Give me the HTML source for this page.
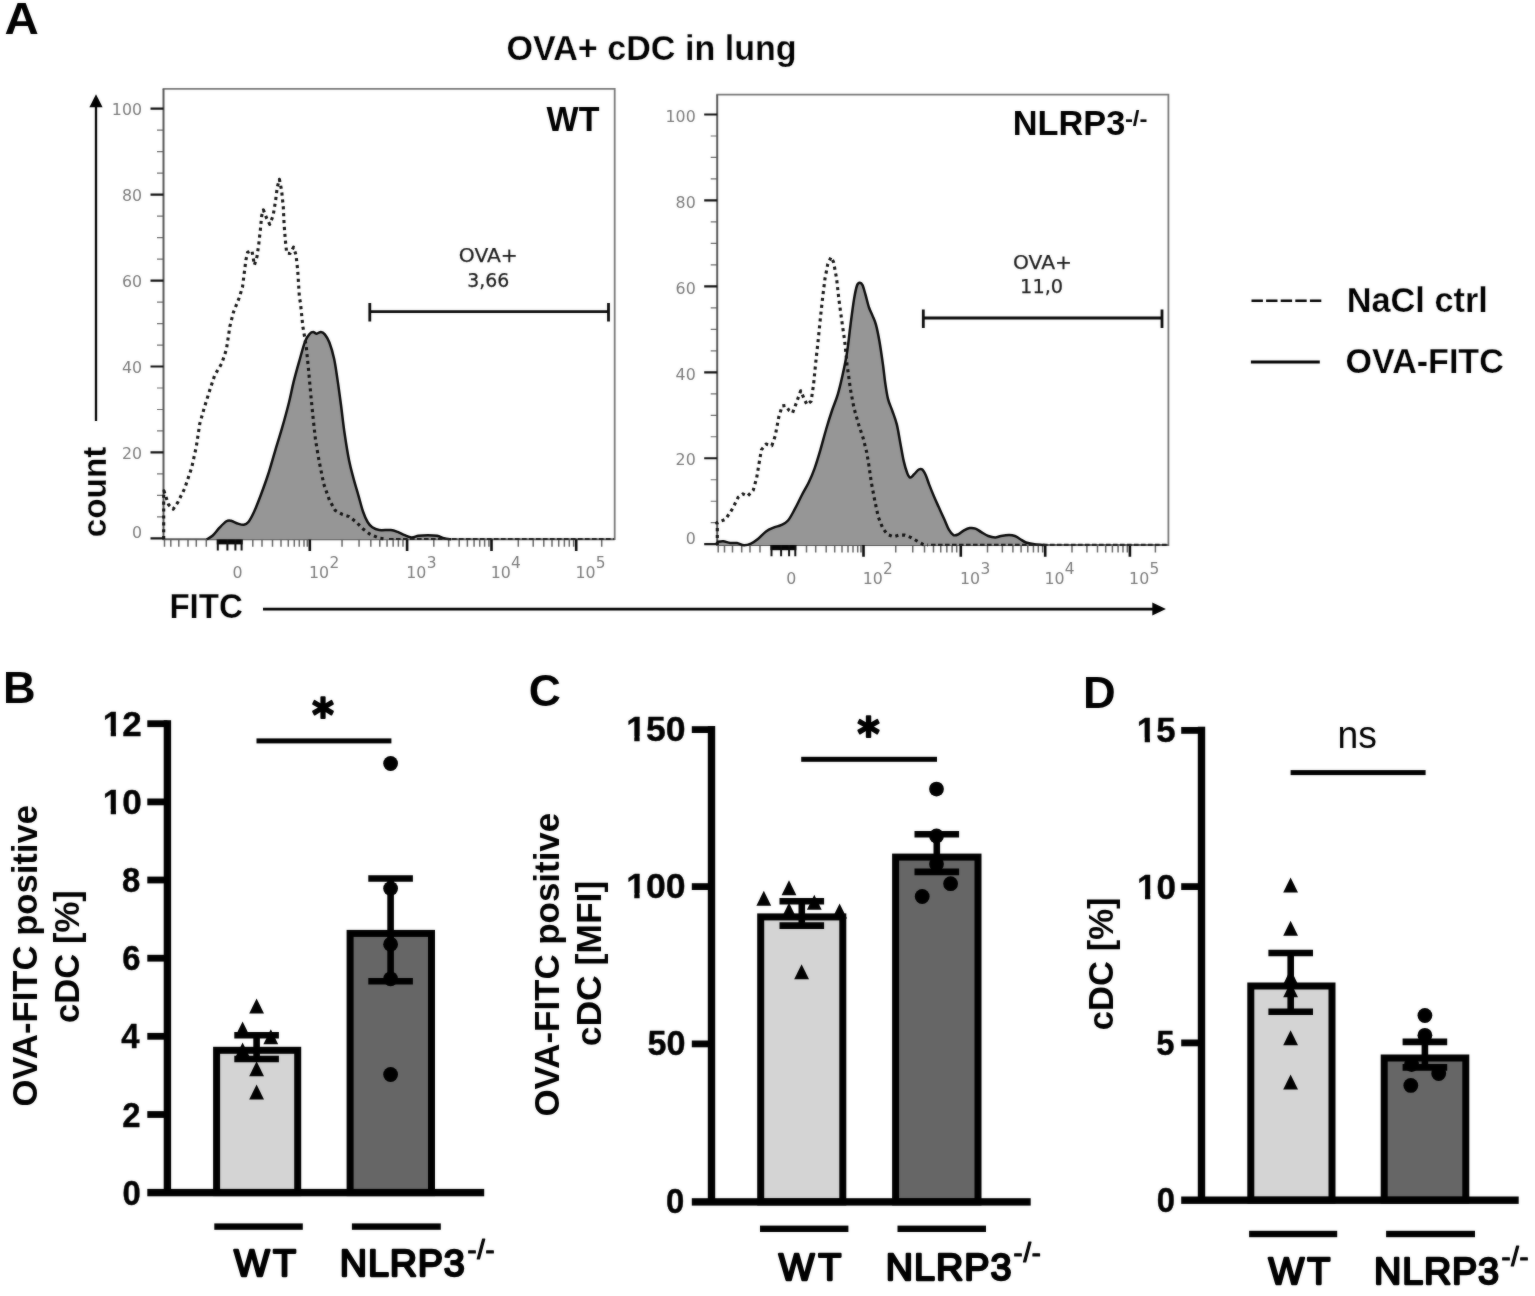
<!DOCTYPE html>
<html lang="en"><head><meta charset="utf-8"><title>OVA+ cDC in lung</title>
<style>html,body{margin:0;padding:0;background:#fff}body{width:1535px;height:1296px;overflow:hidden}svg{display:block}.s{font-family:'Liberation Sans', sans-serif}.d{font-family:'DejaVu Sans', 'Liberation Sans', sans-serif}text{white-space:pre}</style></head><body>
<svg width="1535" height="1296" viewBox="0 0 1535 1296" role="img" aria-label="OVA+ cDC in lung">
<defs><filter id="soft" filterUnits="userSpaceOnUse" x="0" y="0" width="1535" height="1296" color-interpolation-filters="sRGB"><feGaussianBlur in="SourceGraphic" stdDeviation="0.8" result="b"/><feComposite in="SourceGraphic" in2="b" operator="arithmetic" k1="0" k2="0.65" k3="0.35" k4="0"/></filter></defs>
<g filter="url(#soft)">
<rect width="1535" height="1296" fill="#fff"/>
<text x="4.52" y="34.4" class="s" font-size="43.5" font-weight="bold" textLength="34.32" lengthAdjust="spacingAndGlyphs">A</text>
<text x="506.47" y="60.3" class="s" font-size="34.4" font-weight="bold" stroke="#fff" stroke-width="0.25" textLength="290.21" lengthAdjust="spacingAndGlyphs">OVA+ cDC in lung</text>
<line x1="96" y1="421" x2="96" y2="105" stroke="#000" stroke-width="2.3"/>
<path d="M96 94.2L102.6 107.2H89.4Z" fill="#000"/>
<text x="106.2" y="537.25" class="s" font-size="33.8" font-weight="bold" stroke="#fff" stroke-width="0.25" textLength="90.68" lengthAdjust="spacingAndGlyphs" transform="rotate(-90 106.2 537.25)">count</text>
<text x="169.4" y="618" class="s" font-size="35.4" font-weight="bold" stroke="#fff" stroke-width="0.25" textLength="73.44" lengthAdjust="spacingAndGlyphs">FITC</text>
<line x1="263" y1="609.1" x2="1154" y2="609.1" stroke="#000" stroke-width="2.6"/>
<path d="M1165.9 609.1L1152.3 602.6V615.6Z" fill="#000"/>
<g transform="translate(0 0)">
<path d="M157 516.91H163.5M157 495.43H163.5M157 473.94H163.5M157 430.97H163.5M157 409.49H163.5M157 388H163.5M157 345.03H163.5M157 323.55H163.5M157 302.06H163.5M157 259.09H163.5M157 237.61H163.5M157 216.12H163.5M157 173.16H163.5M157 151.67H163.5M157 130.19H163.5" stroke="#6e6e6e" stroke-width="1.2" fill="none"/>
<path d="M164.5 539.2V546.8M170.8 539.2V546.8M178.8 539.2V546.8M188 539.2V546.8M196.3 539.2V546.8M206.3 539.2V546.8M252.8 539.2V546.8M262 539.2V546.8M272.5 539.2V546.8M281 539.2V546.8M288.3 539.2V546.8M294.3 539.2V546.8M299.3 539.2V546.8M304 539.2V546.8M307.3 539.2V546.8M342.04 539.2V546.8M359.06 539.2V546.8M370.81 539.2V546.8M379.79 539.2V546.8M387.05 539.2V546.8M393.14 539.2V546.8M398.39 539.2V546.8M403 539.2V546.8M433.81 539.2V546.8M448.67 539.2V546.8M459.21 539.2V546.8M467.39 539.2V546.8M474.08 539.2V546.8M479.73 539.2V546.8M484.62 539.2V546.8M488.94 539.2V546.8M518.3 539.2V546.8M533.21 539.2V546.8M543.79 539.2V546.8M552 539.2V546.8M558.71 539.2V546.8M564.38 539.2V546.8M569.29 539.2V546.8M573.62 539.2V546.8M601.7 539.2V546.8" stroke="#666" stroke-width="1.5" fill="none"/>
<path d="M162.6 88.9H614.7V540.1" fill="none" stroke="#787878" stroke-width="1.8"/>
<path d="M163.5 88.9V539.2H614.7" fill="none" stroke="#585858" stroke-width="2"/>
<path d="M150.5 538.4H163.5M150.5 452.46H163.5M150.5 366.52H163.5M150.5 280.58H163.5M150.5 194.64H163.5M150.5 108.7H163.5" stroke="#111" stroke-width="2.2" fill="none"/>
<path d="M309.8 539.2V551M407.1 539.2V551M491.5 539.2V551M576.2 539.2V551" stroke="#0a0a0a" stroke-width="2.6" fill="none"/>
<rect x="216.8" y="538.8" width="25.8" height="5.6" fill="#050505"/>
<path d="M217.8 539.2V550.4M227.4 539.2V550.4M235.4 539.2V550.4M241.6 539.2V550.4" stroke="#0c0c0c" stroke-width="2" fill="none"/>
<text x="142" y="538.1" class="d" font-size="15.8" fill="#7c7c7c" text-anchor="end">0</text>
<text x="142" y="459.06" class="d" font-size="15.8" fill="#7c7c7c" text-anchor="end">20</text>
<text x="142" y="373.12" class="d" font-size="15.8" fill="#7c7c7c" text-anchor="end">40</text>
<text x="142" y="287.18" class="d" font-size="15.8" fill="#7c7c7c" text-anchor="end">60</text>
<text x="142" y="201.24" class="d" font-size="15.8" fill="#7c7c7c" text-anchor="end">80</text>
<text x="142" y="115.3" class="d" font-size="15.8" fill="#7c7c7c" text-anchor="end">100</text>
<text x="237.6" y="577.8" class="d" font-size="15.8" fill="#7c7c7c" text-anchor="middle">0</text>
<text x="309" y="577.8" class="d" font-size="15.8" fill="#7c7c7c">10<tspan dx="0.3" dy="-10.2" font-size="15.4">2</tspan></text>
<text x="406.3" y="577.8" class="d" font-size="15.8" fill="#7c7c7c">10<tspan dx="0.3" dy="-10.2" font-size="15.4">3</tspan></text>
<text x="490.7" y="577.8" class="d" font-size="15.8" fill="#7c7c7c">10<tspan dx="0.3" dy="-10.2" font-size="15.4">4</tspan></text>
<text x="575.4" y="577.8" class="d" font-size="15.8" fill="#7c7c7c">10<tspan dx="0.3" dy="-10.2" font-size="15.4">5</tspan></text>
</g>
<g transform="translate(553.7 5.8)">
<path d="M157 516.91H163.5M157 495.43H163.5M157 473.94H163.5M157 430.97H163.5M157 409.49H163.5M157 388H163.5M157 345.03H163.5M157 323.55H163.5M157 302.06H163.5M157 259.09H163.5M157 237.61H163.5M157 216.12H163.5M157 173.16H163.5M157 151.67H163.5M157 130.19H163.5" stroke="#6e6e6e" stroke-width="1.2" fill="none"/>
<path d="M164.5 539.2V546.8M170.8 539.2V546.8M178.8 539.2V546.8M188 539.2V546.8M196.3 539.2V546.8M206.3 539.2V546.8M252.8 539.2V546.8M262 539.2V546.8M272.5 539.2V546.8M281 539.2V546.8M288.3 539.2V546.8M294.3 539.2V546.8M299.3 539.2V546.8M304 539.2V546.8M307.3 539.2V546.8M342.04 539.2V546.8M359.06 539.2V546.8M370.81 539.2V546.8M379.79 539.2V546.8M387.05 539.2V546.8M393.14 539.2V546.8M398.39 539.2V546.8M403 539.2V546.8M433.81 539.2V546.8M448.67 539.2V546.8M459.21 539.2V546.8M467.39 539.2V546.8M474.08 539.2V546.8M479.73 539.2V546.8M484.62 539.2V546.8M488.94 539.2V546.8M518.3 539.2V546.8M533.21 539.2V546.8M543.79 539.2V546.8M552 539.2V546.8M558.71 539.2V546.8M564.38 539.2V546.8M569.29 539.2V546.8M573.62 539.2V546.8M601.7 539.2V546.8" stroke="#666" stroke-width="1.5" fill="none"/>
<path d="M162.6 88.9H614.7V540.1" fill="none" stroke="#787878" stroke-width="1.8"/>
<path d="M163.5 88.9V539.2H614.7" fill="none" stroke="#585858" stroke-width="2"/>
<path d="M150.5 538.4H163.5M150.5 452.46H163.5M150.5 366.52H163.5M150.5 280.58H163.5M150.5 194.64H163.5M150.5 108.7H163.5" stroke="#111" stroke-width="2.2" fill="none"/>
<path d="M309.8 539.2V551M407.1 539.2V551M491.5 539.2V551M576.2 539.2V551" stroke="#0a0a0a" stroke-width="2.6" fill="none"/>
<rect x="216.8" y="538.8" width="25.8" height="5.6" fill="#050505"/>
<path d="M217.8 539.2V550.4M227.4 539.2V550.4M235.4 539.2V550.4M241.6 539.2V550.4" stroke="#0c0c0c" stroke-width="2" fill="none"/>
<text x="142" y="538.7" class="d" font-size="15.8" fill="#7c7c7c" text-anchor="end">0</text>
<text x="142" y="459.66" class="d" font-size="15.8" fill="#7c7c7c" text-anchor="end">20</text>
<text x="142" y="373.72" class="d" font-size="15.8" fill="#7c7c7c" text-anchor="end">40</text>
<text x="142" y="287.78" class="d" font-size="15.8" fill="#7c7c7c" text-anchor="end">60</text>
<text x="142" y="201.84" class="d" font-size="15.8" fill="#7c7c7c" text-anchor="end">80</text>
<text x="142" y="115.9" class="d" font-size="15.8" fill="#7c7c7c" text-anchor="end">100</text>
<text x="237.6" y="578.4" class="d" font-size="15.8" fill="#7c7c7c" text-anchor="middle">0</text>
<text x="309" y="578.4" class="d" font-size="15.8" fill="#7c7c7c">10<tspan dx="0.3" dy="-10.2" font-size="15.4">2</tspan></text>
<text x="406.3" y="578.4" class="d" font-size="15.8" fill="#7c7c7c">10<tspan dx="0.3" dy="-10.2" font-size="15.4">3</tspan></text>
<text x="490.7" y="578.4" class="d" font-size="15.8" fill="#7c7c7c">10<tspan dx="0.3" dy="-10.2" font-size="15.4">4</tspan></text>
<text x="575.4" y="578.4" class="d" font-size="15.8" fill="#7c7c7c">10<tspan dx="0.3" dy="-10.2" font-size="15.4">5</tspan></text>
</g>
<path d="M206.7 539.3C207.67 538.72 210.37 537.73 212.5 535.8C214.63 533.87 217.18 530.12 219.5 527.7C221.82 525.28 224.48 522.45 226.4 521.3C228.32 520.15 229.07 520.42 231 520.8C232.93 521.18 235.87 522.95 238 523.6C240.13 524.25 242.07 524.97 243.8 524.7C245.53 524.43 246.67 524.2 248.4 522C250.13 519.8 252.08 516.13 254.2 511.5C256.32 506.87 258.78 500.37 261.1 494.2C263.42 488.03 265.78 481.65 268.1 474.5C270.42 467.35 272.68 459.02 275 451.3C277.32 443.58 279.68 436.3 282 428.2C284.32 420.1 286.97 410.42 288.9 402.7C290.83 394.98 291.87 388.85 293.6 381.9C295.33 374.95 297.38 367.75 299.3 361C301.22 354.25 303.35 345.95 305.1 341.4C306.85 336.85 308.45 335.25 309.8 333.7C311.15 332.15 312.05 332.1 313.2 332.1C314.35 332.1 315.42 333.73 316.7 333.7C317.98 333.67 319.55 331.78 320.9 331.9C322.25 332.02 323.38 332.63 324.8 334.4C326.22 336.17 327.85 338.45 329.4 342.5C330.95 346.55 332.75 352.52 334.1 358.7C335.45 364.88 336.35 371.88 337.5 379.6C338.65 387.32 339.83 396.13 341 405C342.17 413.87 343.15 423.53 344.5 432.8C345.85 442.07 347.57 452.88 349.1 460.6C350.63 468.32 352.15 473.32 353.7 479.1C355.25 484.88 356.85 489.9 358.4 495.3C359.95 500.7 361.47 507.05 363 511.5C364.53 515.95 366.05 519.37 367.6 522C369.15 524.63 370.37 525.97 372.3 527.3C374.23 528.63 376.12 529.55 379.2 530C382.28 530.45 387.72 529.68 390.8 530C393.88 530.32 395.38 531.03 397.7 531.9C400.02 532.77 402.38 534.27 404.7 535.2C407.02 536.13 409.28 537.4 411.6 537.5C413.92 537.6 415.9 536.18 418.6 535.8C421.3 535.42 424.72 535.2 427.8 535.2C430.88 535.2 434.4 535.3 437.1 535.8C439.8 536.3 441.68 537.62 444 538.2C446.32 538.78 449.83 539.12 451 539.3L451 539.2L206.7 539.2Z" fill="#969696" stroke="none"/>
<path d="M206.7 539.3C207.67 538.72 210.37 537.73 212.5 535.8C214.63 533.87 217.18 530.12 219.5 527.7C221.82 525.28 224.48 522.45 226.4 521.3C228.32 520.15 229.07 520.42 231 520.8C232.93 521.18 235.87 522.95 238 523.6C240.13 524.25 242.07 524.97 243.8 524.7C245.53 524.43 246.67 524.2 248.4 522C250.13 519.8 252.08 516.13 254.2 511.5C256.32 506.87 258.78 500.37 261.1 494.2C263.42 488.03 265.78 481.65 268.1 474.5C270.42 467.35 272.68 459.02 275 451.3C277.32 443.58 279.68 436.3 282 428.2C284.32 420.1 286.97 410.42 288.9 402.7C290.83 394.98 291.87 388.85 293.6 381.9C295.33 374.95 297.38 367.75 299.3 361C301.22 354.25 303.35 345.95 305.1 341.4C306.85 336.85 308.45 335.25 309.8 333.7C311.15 332.15 312.05 332.1 313.2 332.1C314.35 332.1 315.42 333.73 316.7 333.7C317.98 333.67 319.55 331.78 320.9 331.9C322.25 332.02 323.38 332.63 324.8 334.4C326.22 336.17 327.85 338.45 329.4 342.5C330.95 346.55 332.75 352.52 334.1 358.7C335.45 364.88 336.35 371.88 337.5 379.6C338.65 387.32 339.83 396.13 341 405C342.17 413.87 343.15 423.53 344.5 432.8C345.85 442.07 347.57 452.88 349.1 460.6C350.63 468.32 352.15 473.32 353.7 479.1C355.25 484.88 356.85 489.9 358.4 495.3C359.95 500.7 361.47 507.05 363 511.5C364.53 515.95 366.05 519.37 367.6 522C369.15 524.63 370.37 525.97 372.3 527.3C374.23 528.63 376.12 529.55 379.2 530C382.28 530.45 387.72 529.68 390.8 530C393.88 530.32 395.38 531.03 397.7 531.9C400.02 532.77 402.38 534.27 404.7 535.2C407.02 536.13 409.28 537.4 411.6 537.5C413.92 537.6 415.9 536.18 418.6 535.8C421.3 535.42 424.72 535.2 427.8 535.2C430.88 535.2 434.4 535.3 437.1 535.8C439.8 536.3 441.68 537.62 444 538.2C446.32 538.78 449.83 539.12 451 539.3" fill="none" stroke="#0a0a0a" stroke-width="2.5" stroke-linejoin="round"/>
<path d="M163.7 539.2L163.7 492L163.9 490.7L168.5 504.6L173.2 509.2L177.8 502.3L184.7 488.4L191.7 467.5L196.3 446.7L199.8 423.6L204.4 407.3L210.2 388.8L214.8 374.9L221.8 363.4L226.4 349.5L229.9 326.3L233.4 312.4L239.1 298L242.5 287.1L244.2 273.5L245.9 260L247.6 252.3L251.9 250.6L254.4 265L257 256.6L258.7 244.7L260.4 229.4L261.7 215.8L263.4 209.9L266.3 217.5L269.7 224.3L273.1 215.8L275.6 200.5L277.3 187L279.4 179.3L281.6 190.4L283.3 207.3L284.1 224.3L285.3 239.6L286.7 253.2L290.1 253.5L293.5 247.2L296 254.9L297.7 270.2L299.4 297.3L300.5 303.2L302.8 326.3L306.3 347.1L308.6 370.3L310.9 395.8L313.2 418.9L315.5 439.8L319 460.6L323.7 483.8L329.4 500L335.2 510.4L342.2 514.3L349.1 516.6L356.1 522L363 528.9L370 534.2L379.2 538.2L386 539" fill="none" stroke="#111" stroke-width="3.1" stroke-dasharray="3.1 3.8" stroke-linejoin="round"/>
<path d="M389 539H613.7" fill="none" stroke="#1a1a1a" stroke-width="2.2" stroke-dasharray="4.6 2.4"/>
<path d="M716.7 542C717.78 541.88 720.97 541.13 723.2 541.3C725.43 541.47 727.8 542.72 730.1 543C732.4 543.28 734.68 542.62 737 543C739.32 543.38 741.68 545.2 744 545.3C746.32 545.4 748.58 544.65 750.9 543.6C753.22 542.55 755.38 541.03 757.9 539C760.42 536.97 763.3 533.33 766 531.4C768.7 529.47 771.6 528.45 774.1 527.4C776.6 526.35 778.68 526.25 781 525.1C783.32 523.95 785.68 523.2 788 520.5C790.32 517.8 792.58 513.15 794.9 508.9C797.22 504.65 799.58 499.43 801.9 495C804.22 490.57 806.68 486.73 808.8 482.3C810.92 477.87 812.67 473.8 814.6 468.4C816.53 463 818.47 456.47 820.4 449.9C822.33 443.33 824.27 435.57 826.2 429C828.13 422.43 830.07 416.28 832 410.5C833.93 404.72 836.07 400.08 837.8 394.3C839.53 388.52 840.87 382.75 842.4 375.8C843.93 368.85 845.65 361.1 847 352.6C848.35 344.1 849.33 333.67 850.5 324.8C851.67 315.93 852.92 305.95 854 299.4C855.08 292.85 856.03 288.28 857 285.5C857.97 282.72 858.88 282.78 859.8 282.7C860.72 282.62 861.55 283 862.5 285C863.45 287 864.42 290.95 865.5 294.7C866.58 298.45 867.83 304.02 869 307.5C870.17 310.98 871.33 312.72 872.5 315.6C873.67 318.48 874.85 320.57 876 324.8C877.15 329.03 878.25 334.43 879.4 341C880.55 347.57 881.93 357.25 882.9 364.2C883.87 371.15 884.35 376.92 885.2 382.7C886.05 388.48 886.83 394.27 888 398.9C889.17 403.53 890.73 406.25 892.2 410.5C893.67 414.75 895.45 419 896.8 424.4C898.15 429.8 899.13 436.73 900.3 442.9C901.47 449.07 902.65 456.38 903.8 461.4C904.95 466.42 906.13 470.3 907.2 473C908.27 475.7 909.03 477.4 910.2 477.6C911.37 477.8 912.77 475.55 914.2 474.2C915.63 472.85 917.45 470.28 918.8 469.5C920.15 468.72 921.13 468.53 922.3 469.5C923.47 470.47 924.65 472.78 925.8 475.3C926.95 477.82 927.85 481.12 929.2 484.6C930.55 488.08 932.35 492.53 933.9 496.2C935.45 499.87 936.77 502.75 938.5 506.6C940.23 510.45 942.57 515.45 944.3 519.3C946.03 523.15 947.37 527.07 948.9 529.7C950.43 532.33 951.95 534.32 953.5 535.1C955.05 535.88 956.45 535.18 958.2 534.4C959.95 533.62 962.08 531.45 964 530.4C965.92 529.35 967.78 528.4 969.7 528.1C971.62 527.8 973.57 527.93 975.5 528.6C977.43 529.27 979.17 530.87 981.3 532.1C983.43 533.33 985.98 535.12 988.3 536C990.62 536.88 993.08 537.4 995.2 537.4C997.32 537.4 998.68 536.38 1001 536C1003.32 535.62 1006.78 535.1 1009.1 535.1C1011.42 535.1 1013.08 535.35 1014.9 536C1016.72 536.65 1018.15 537.92 1020 539C1021.85 540.08 1023.33 541.57 1026 542.5C1028.67 543.43 1032.67 544.15 1036 544.6C1039.33 545.05 1044.33 545.1 1046 545.2L1046 545L716.7 545Z" fill="#969696" stroke="none"/>
<path d="M716.7 542C717.78 541.88 720.97 541.13 723.2 541.3C725.43 541.47 727.8 542.72 730.1 543C732.4 543.28 734.68 542.62 737 543C739.32 543.38 741.68 545.2 744 545.3C746.32 545.4 748.58 544.65 750.9 543.6C753.22 542.55 755.38 541.03 757.9 539C760.42 536.97 763.3 533.33 766 531.4C768.7 529.47 771.6 528.45 774.1 527.4C776.6 526.35 778.68 526.25 781 525.1C783.32 523.95 785.68 523.2 788 520.5C790.32 517.8 792.58 513.15 794.9 508.9C797.22 504.65 799.58 499.43 801.9 495C804.22 490.57 806.68 486.73 808.8 482.3C810.92 477.87 812.67 473.8 814.6 468.4C816.53 463 818.47 456.47 820.4 449.9C822.33 443.33 824.27 435.57 826.2 429C828.13 422.43 830.07 416.28 832 410.5C833.93 404.72 836.07 400.08 837.8 394.3C839.53 388.52 840.87 382.75 842.4 375.8C843.93 368.85 845.65 361.1 847 352.6C848.35 344.1 849.33 333.67 850.5 324.8C851.67 315.93 852.92 305.95 854 299.4C855.08 292.85 856.03 288.28 857 285.5C857.97 282.72 858.88 282.78 859.8 282.7C860.72 282.62 861.55 283 862.5 285C863.45 287 864.42 290.95 865.5 294.7C866.58 298.45 867.83 304.02 869 307.5C870.17 310.98 871.33 312.72 872.5 315.6C873.67 318.48 874.85 320.57 876 324.8C877.15 329.03 878.25 334.43 879.4 341C880.55 347.57 881.93 357.25 882.9 364.2C883.87 371.15 884.35 376.92 885.2 382.7C886.05 388.48 886.83 394.27 888 398.9C889.17 403.53 890.73 406.25 892.2 410.5C893.67 414.75 895.45 419 896.8 424.4C898.15 429.8 899.13 436.73 900.3 442.9C901.47 449.07 902.65 456.38 903.8 461.4C904.95 466.42 906.13 470.3 907.2 473C908.27 475.7 909.03 477.4 910.2 477.6C911.37 477.8 912.77 475.55 914.2 474.2C915.63 472.85 917.45 470.28 918.8 469.5C920.15 468.72 921.13 468.53 922.3 469.5C923.47 470.47 924.65 472.78 925.8 475.3C926.95 477.82 927.85 481.12 929.2 484.6C930.55 488.08 932.35 492.53 933.9 496.2C935.45 499.87 936.77 502.75 938.5 506.6C940.23 510.45 942.57 515.45 944.3 519.3C946.03 523.15 947.37 527.07 948.9 529.7C950.43 532.33 951.95 534.32 953.5 535.1C955.05 535.88 956.45 535.18 958.2 534.4C959.95 533.62 962.08 531.45 964 530.4C965.92 529.35 967.78 528.4 969.7 528.1C971.62 527.8 973.57 527.93 975.5 528.6C977.43 529.27 979.17 530.87 981.3 532.1C983.43 533.33 985.98 535.12 988.3 536C990.62 536.88 993.08 537.4 995.2 537.4C997.32 537.4 998.68 536.38 1001 536C1003.32 535.62 1006.78 535.1 1009.1 535.1C1011.42 535.1 1013.08 535.35 1014.9 536C1016.72 536.65 1018.15 537.92 1020 539C1021.85 540.08 1023.33 541.57 1026 542.5C1028.67 543.43 1032.67 544.15 1036 544.6C1039.33 545.05 1044.33 545.1 1046 545.2" fill="none" stroke="#0a0a0a" stroke-width="2.5" stroke-linejoin="round"/>
<path d="M717.3 545L717.3 524L716.7 522.8L725.5 519.3L732.4 508.9L738.2 497.3L742.8 493.9L747.5 496.2L753.2 490.4L756.7 477.7L759 463.8L761.4 449.9L766 444.1L771.8 445.7L775.2 436L778.7 417.5L782.2 405.9L785.7 405.4L789.1 410.5L792.6 412.8L796.1 403.6L800.7 390.8L804.2 398.9L807 404.7L811.1 401.2L813.5 385L815.8 361.9L818.1 341L820.4 317.9L822.7 297L825 278.5L827.8 264L831 257.1L833.6 262.3L836.6 278.5L838.9 299.4L841.7 320.2L844.7 341L847 364.2L850.5 389.7L854 408.2L858.6 424.4L863.2 438.3L866.7 452.2L869 466.1L871.3 482.3L874.8 500.8L878.3 517L882.9 528.6L887.5 534.4L893.3 536.7L899.1 535.1L904.9 535.1L910.7 537.4L917.6 541.3L923.4 544.6L928 545" fill="none" stroke="#111" stroke-width="3.1" stroke-dasharray="3.1 3.8" stroke-linejoin="round"/>
<path d="M931 544.8H1167.4" fill="none" stroke="#1a1a1a" stroke-width="2.2" stroke-dasharray="4.6 2.4"/>
<path d="M369.8 311.6H608.5M369.8 303.1V321.6M608.5 303.1V321.6" stroke="#0a0a0a" stroke-width="2.8" fill="none"/>
<text x="458.85" y="262.4" class="d" font-size="19.4" fill="#1c1c1c" stroke="#1c1c1c" stroke-width="0.25" stroke-linejoin="round" textLength="59.02" lengthAdjust="spacingAndGlyphs">OVA+</text>
<text x="467.17" y="287.2" class="d" font-size="19.4" fill="#1c1c1c" stroke="#1c1c1c" stroke-width="0.25" stroke-linejoin="round" textLength="42.04" lengthAdjust="spacingAndGlyphs">3,66</text>
<path d="M923.3 318H1162M923.3 309.5V328M1162 309.5V328" stroke="#0a0a0a" stroke-width="2.8" fill="none"/>
<text x="1013" y="268.5" class="d" font-size="19.4" fill="#1c1c1c" stroke="#1c1c1c" stroke-width="0.25" stroke-linejoin="round" textLength="58.97" lengthAdjust="spacingAndGlyphs">OVA+</text>
<text x="1020.1" y="293.2" class="d" font-size="19.4" fill="#1c1c1c" stroke="#1c1c1c" stroke-width="0.25" stroke-linejoin="round" textLength="43.04" lengthAdjust="spacingAndGlyphs">11,0</text>
<text x="546.62" y="131.4" class="s" font-size="35.8" font-weight="bold" textLength="52.76" lengthAdjust="spacingAndGlyphs">WT</text>
<text x="1012.8" y="134.9" class="s" font-size="35.2" font-weight="bold" textLength="112.56" lengthAdjust="spacingAndGlyphs">NLRP3</text>
<text x="1124.9" y="126.2" class="s" font-size="22" font-weight="bold" textLength="22.52" lengthAdjust="spacingAndGlyphs">-/-</text>
<line x1="1251.5" y1="300.7" x2="1322" y2="300.7" stroke="#000" stroke-width="2.5" stroke-dasharray="11.4 3.2"/>
<line x1="1250.9" y1="362" x2="1319.8" y2="362" stroke="#000" stroke-width="2.8"/>
<text x="1346.7" y="312.2" class="s" font-size="34.6" font-weight="bold" stroke="#fff" stroke-width="0.25" textLength="141.2" lengthAdjust="spacingAndGlyphs">NaCl ctrl</text>
<text x="1345.5" y="373.3" class="s" font-size="35.4" font-weight="bold" stroke="#fff" stroke-width="0.25" textLength="158.23" lengthAdjust="spacingAndGlyphs">OVA-FITC</text>
<text x="36.8" y="1106.47" class="s" font-size="35" font-weight="bold" textLength="301.51" lengthAdjust="spacingAndGlyphs" transform="rotate(-90 36.8 1106.47)">OVA-FITC positive</text>
<text x="78.8" y="1022.98" class="s" font-size="35" font-weight="bold" textLength="132.84" lengthAdjust="spacingAndGlyphs" transform="rotate(-90 78.8 1022.98)">cDC [%]</text>
<rect x="216.6" y="1050.3" width="81.1" height="142.3" fill="#d4d4d4" stroke="#000" stroke-width="7"/>
<rect x="350.1" y="933.4" width="81.4" height="259.2" fill="#666666" stroke="#000" stroke-width="7"/>
<rect x="163.7" y="720.2" width="7.4" height="472.4" fill="#000"/>
<rect x="147.3" y="1188.9" width="336.9" height="7.4" fill="#000"/>
<rect x="147.3" y="720.3" width="20.1" height="6.8" fill="#000"/>
<text x="102.75" y="735.7" class="s" font-size="34.6" font-weight="bold" stroke="#000" stroke-width="0.4" stroke-linejoin="round" textLength="39.02" lengthAdjust="spacingAndGlyphs">12</text>
<rect x="103.56" y="730.9" width="7.15" height="7.2" fill="#fff"/>
<rect x="115.98" y="730.9" width="6.49" height="7.2" fill="#fff"/>
<rect x="147.3" y="798.5" width="20.1" height="6.8" fill="#000"/>
<text x="102.75" y="813.9" class="s" font-size="34.6" font-weight="bold" stroke="#000" stroke-width="0.4" stroke-linejoin="round" textLength="39.02" lengthAdjust="spacingAndGlyphs">10</text>
<rect x="103.56" y="809.1" width="7.15" height="7.2" fill="#fff"/>
<rect x="115.98" y="809.1" width="6.49" height="7.2" fill="#fff"/>
<rect x="147.3" y="876.6" width="20.1" height="6.8" fill="#000"/>
<text x="121.9" y="892" class="s" font-size="34.6" font-weight="bold" stroke="#000" stroke-width="0.4" stroke-linejoin="round" textLength="18.27" lengthAdjust="spacingAndGlyphs">8</text>
<rect x="147.3" y="954.8" width="20.1" height="6.8" fill="#000"/>
<text x="122.15" y="970.2" class="s" font-size="34.6" font-weight="bold" stroke="#000" stroke-width="0.4" stroke-linejoin="round" textLength="18.27" lengthAdjust="spacingAndGlyphs">6</text>
<rect x="147.3" y="1032.9" width="20.1" height="6.8" fill="#000"/>
<text x="121.15" y="1048.3" class="s" font-size="34.6" font-weight="bold" stroke="#000" stroke-width="0.4" stroke-linejoin="round" textLength="18.27" lengthAdjust="spacingAndGlyphs">4</text>
<rect x="147.3" y="1111.1" width="20.1" height="6.8" fill="#000"/>
<text x="122.15" y="1126.5" class="s" font-size="34.6" font-weight="bold" stroke="#000" stroke-width="0.4" stroke-linejoin="round" textLength="18.27" lengthAdjust="spacingAndGlyphs">2</text>
<text x="122.4" y="1204.6" class="s" font-size="34.6" font-weight="bold" stroke="#000" stroke-width="0.4" stroke-linejoin="round" textLength="18.27" lengthAdjust="spacingAndGlyphs">0</text>
<path d="M234.3 1035.2H278.9M234.3 1059H278.9M256.6 1035.2V1059" stroke="#000" stroke-width="6.6" fill="none"/>
<path d="M368.3 878.5H412.9M368.3 981.2H412.9M390.6 878.5V981.2" stroke="#000" stroke-width="6.6" fill="none"/>
<g fill="#000">
<path d="M256.6 998.6L264 1013.6H249.2Z"/>
<path d="M242.6 1021.5L250 1036.5H235.2Z"/>
<path d="M270.8 1029.2L278.2 1044.2H263.4Z"/>
<path d="M242.6 1042.5L250 1057.5H235.2Z"/>
<path d="M256.6 1061.2L264 1076.2H249.2Z"/>
<path d="M256.6 1084.5L264 1099.5H249.2Z"/>
<circle cx="390.6" cy="763.5" r="7.4"/>
<circle cx="390.6" cy="888.6" r="7.4"/>
<circle cx="390.6" cy="944.2" r="7.4"/>
<circle cx="390.6" cy="978.8" r="7.4"/>
<circle cx="390.6" cy="1074.5" r="7.4"/>
</g>
<rect x="256.5" y="738.4" width="134.9" height="5" fill="#000"/>
<rect x="214.3" y="1223.4" width="88.5" height="6.4" fill="#000"/>
<rect x="351.9" y="1223.4" width="88.9" height="6.4" fill="#000"/>
<text x="233.98" y="1276.2" class="s" font-size="37.8" stroke="#000" stroke-width="2.3" stroke-linejoin="round" textLength="62.01" lengthAdjust="spacing">WT</text>
<text x="339.8" y="1276.2" class="s" font-size="37.8" stroke="#000" stroke-width="2.3" stroke-linejoin="round" textLength="125.09" lengthAdjust="spacing">NLRP3</text>
<text x="467.4" y="1259" class="s" font-size="27" stroke="#000" stroke-width="1.2" stroke-linejoin="round" textLength="26.98" lengthAdjust="spacing">-/-</text>
<text x="3.05" y="703" class="s" font-size="43.5" font-weight="bold" textLength="32.62" lengthAdjust="spacingAndGlyphs">B</text>
<text x="312.15" y="729.5" class="d" font-size="44" font-weight="bold" stroke="#000" stroke-width="2" stroke-linejoin="round" textLength="21.52" lengthAdjust="spacingAndGlyphs">*</text>
<text x="559.2" y="1116.5" class="s" font-size="35" font-weight="bold" textLength="303.66" lengthAdjust="spacingAndGlyphs" transform="rotate(-90 559.2 1116.5)">OVA-FITC positive</text>
<text x="601.1" y="1046.25" class="s" font-size="35" font-weight="bold" textLength="165.51" lengthAdjust="spacingAndGlyphs" transform="rotate(-90 601.1 1046.25)">cDC [MFI]</text>
<rect x="760.7" y="916.9" width="82.1" height="285" fill="#d4d4d4" stroke="#000" stroke-width="7"/>
<rect x="895.6" y="857.1" width="82.4" height="344.8" fill="#666666" stroke="#000" stroke-width="7"/>
<rect x="707.8" y="726" width="7.4" height="475.9" fill="#000"/>
<rect x="691.8" y="1198.2" width="338.9" height="7.4" fill="#000"/>
<rect x="691.8" y="726.2" width="19.7" height="6.8" fill="#000"/>
<text x="626.2" y="740.8" class="s" font-size="34.6" font-weight="bold" stroke="#000" stroke-width="0.4" stroke-linejoin="round" textLength="59.4" lengthAdjust="spacingAndGlyphs">150</text>
<rect x="627.02" y="736" width="7.25" height="7.2" fill="#fff"/>
<rect x="639.63" y="736" width="6.58" height="7.2" fill="#fff"/>
<rect x="691.8" y="883.2" width="19.7" height="6.8" fill="#000"/>
<text x="626.2" y="897.8" class="s" font-size="34.6" font-weight="bold" stroke="#000" stroke-width="0.4" stroke-linejoin="round" textLength="59.4" lengthAdjust="spacingAndGlyphs">100</text>
<rect x="627.02" y="893" width="7.25" height="7.2" fill="#fff"/>
<rect x="639.63" y="893" width="6.58" height="7.2" fill="#fff"/>
<rect x="691.8" y="1040.5" width="19.7" height="6.8" fill="#000"/>
<text x="647.45" y="1055.1" class="s" font-size="34.6" font-weight="bold" stroke="#000" stroke-width="0.4" stroke-linejoin="round" textLength="38.02" lengthAdjust="spacingAndGlyphs">50</text>
<text x="666.1" y="1213.1" class="s" font-size="34.6" font-weight="bold" stroke="#000" stroke-width="0.4" stroke-linejoin="round" textLength="18.27" lengthAdjust="spacingAndGlyphs">0</text>
<path d="M779.5 901.2H824.1M779.5 925.6H824.1M801.8 901.2V925.6" stroke="#000" stroke-width="6.6" fill="none"/>
<path d="M914.5 834.3H959.1M914.5 871.9H959.1M936.8 834.3V871.9" stroke="#000" stroke-width="6.6" fill="none"/>
<g fill="#000">
<path d="M763.8 890.7L771.2 905.7H756.4Z"/>
<path d="M789 880.2L796.4 895.2H781.6Z"/>
<path d="M814.3 894.8L821.7 909.8H806.9Z"/>
<path d="M789 902.8L796.4 917.8H781.6Z"/>
<path d="M839.6 903.4L847 918.4H832.2Z"/>
<path d="M801.6 964.2L809 979.2H794.2Z"/>
<circle cx="936.5" cy="789.1" r="7.4"/>
<circle cx="936.5" cy="836" r="7.4"/>
<circle cx="936.5" cy="864" r="7.4"/>
<circle cx="950.6" cy="883.7" r="7.4"/>
<circle cx="922.2" cy="896.5" r="7.4"/>
</g>
<rect x="801.2" y="756.8" width="135.8" height="5" fill="#000"/>
<rect x="760" y="1225.6" width="88.4" height="6.4" fill="#000"/>
<rect x="897.5" y="1225.6" width="88.5" height="6.4" fill="#000"/>
<text x="778.83" y="1279.5" class="s" font-size="37.8" stroke="#000" stroke-width="2.3" stroke-linejoin="round" textLength="62.53" lengthAdjust="spacing">WT</text>
<text x="885.67" y="1279.5" class="s" font-size="37.8" stroke="#000" stroke-width="2.3" stroke-linejoin="round" textLength="125.87" lengthAdjust="spacing">NLRP3</text>
<text x="1013.53" y="1261.5" class="s" font-size="27" stroke="#000" stroke-width="1.2" stroke-linejoin="round" textLength="27.23" lengthAdjust="spacing">-/-</text>
<text x="528.7" y="705.6" class="s" font-size="43.5" font-weight="bold" textLength="32.12" lengthAdjust="spacingAndGlyphs">C</text>
<text x="857.5" y="749.2" class="d" font-size="44" font-weight="bold" stroke="#000" stroke-width="2" stroke-linejoin="round" textLength="22.07" lengthAdjust="spacingAndGlyphs">*</text>
<text x="1112.9" y="1030.33" class="s" font-size="35" font-weight="bold" textLength="132.89" lengthAdjust="spacingAndGlyphs" transform="rotate(-90 1112.9 1030.33)">cDC [%]</text>
<rect x="1250.8" y="986" width="81.2" height="214.2" fill="#d4d4d4" stroke="#000" stroke-width="7"/>
<rect x="1384.2" y="1058" width="81.6" height="142.2" fill="#666666" stroke="#000" stroke-width="7"/>
<rect x="1197.8" y="726.7" width="7.4" height="473.5" fill="#000"/>
<rect x="1181.2" y="1196.5" width="337.5" height="7.4" fill="#000"/>
<rect x="1181.2" y="727" width="20.3" height="6.8" fill="#000"/>
<text x="1136.8" y="742.4" class="s" font-size="34.6" font-weight="bold" stroke="#000" stroke-width="0.4" stroke-linejoin="round" textLength="38.77" lengthAdjust="spacingAndGlyphs">15</text>
<rect x="1137.61" y="737.6" width="7.1" height="7.2" fill="#fff"/>
<rect x="1149.95" y="737.6" width="6.45" height="7.2" fill="#fff"/>
<rect x="1181.2" y="883.2" width="20.3" height="6.8" fill="#000"/>
<text x="1137.05" y="898.6" class="s" font-size="34.6" font-weight="bold" stroke="#000" stroke-width="0.4" stroke-linejoin="round" textLength="39.02" lengthAdjust="spacingAndGlyphs">10</text>
<rect x="1137.86" y="893.8" width="7.15" height="7.2" fill="#fff"/>
<rect x="1150.28" y="893.8" width="6.49" height="7.2" fill="#fff"/>
<rect x="1181.2" y="1039.5" width="20.3" height="6.8" fill="#000"/>
<text x="1156.2" y="1054.9" class="s" font-size="34.6" font-weight="bold" stroke="#000" stroke-width="0.4" stroke-linejoin="round" textLength="18.27" lengthAdjust="spacingAndGlyphs">5</text>
<text x="1156.7" y="1212.2" class="s" font-size="34.6" font-weight="bold" stroke="#000" stroke-width="0.4" stroke-linejoin="round" textLength="18.27" lengthAdjust="spacingAndGlyphs">0</text>
<path d="M1268.4 953H1313M1268.4 1011.7H1313M1290.7 953V1011.7" stroke="#000" stroke-width="6.6" fill="none"/>
<path d="M1402.6 1041.9H1447.2M1402.6 1067.4H1447.2M1424.9 1041.9V1067.4" stroke="#000" stroke-width="6.6" fill="none"/>
<g fill="#000">
<path d="M1290.6 877.4L1298 892.4H1283.2Z"/>
<path d="M1290.6 920.8L1298 935.8H1283.2Z"/>
<path d="M1290.6 969.2L1298 984.2H1283.2Z"/>
<path d="M1290.6 982.2L1298 997.2H1283.2Z"/>
<path d="M1290.6 1030.3L1298 1045.3H1283.2Z"/>
<path d="M1290.6 1074.6L1298 1089.6H1283.2Z"/>
<circle cx="1424.9" cy="1015.5" r="7.4"/>
<circle cx="1424.9" cy="1035.3" r="7.4"/>
<circle cx="1411.6" cy="1064.6" r="7.4"/>
<circle cx="1438.7" cy="1073.5" r="7.4"/>
<circle cx="1410.8" cy="1085.4" r="7.4"/>
</g>
<rect x="1290.6" y="770.1" width="135" height="5" fill="#000"/>
<rect x="1249.1" y="1230.8" width="88.1" height="6.4" fill="#000"/>
<rect x="1386.1" y="1230.8" width="88.9" height="6.4" fill="#000"/>
<text x="1268.6" y="1283.7" class="s" font-size="37.8" stroke="#000" stroke-width="2.3" stroke-linejoin="round" textLength="61.77" lengthAdjust="spacing">WT</text>
<text x="1374.1" y="1283.7" class="s" font-size="37.8" stroke="#000" stroke-width="2.3" stroke-linejoin="round" textLength="124.96" lengthAdjust="spacing">NLRP3</text>
<text x="1501.5" y="1266" class="s" font-size="27" stroke="#000" stroke-width="1.2" stroke-linejoin="round" textLength="26.98" lengthAdjust="spacing">-/-</text>
<text x="1082.97" y="708.2" class="s" font-size="43.5" font-weight="bold" textLength="32.72" lengthAdjust="spacingAndGlyphs">D</text>
<text x="1337.45" y="748.3" class="s" font-size="38.5" textLength="39.37" lengthAdjust="spacingAndGlyphs">ns</text>
</g>
</svg></body></html>
